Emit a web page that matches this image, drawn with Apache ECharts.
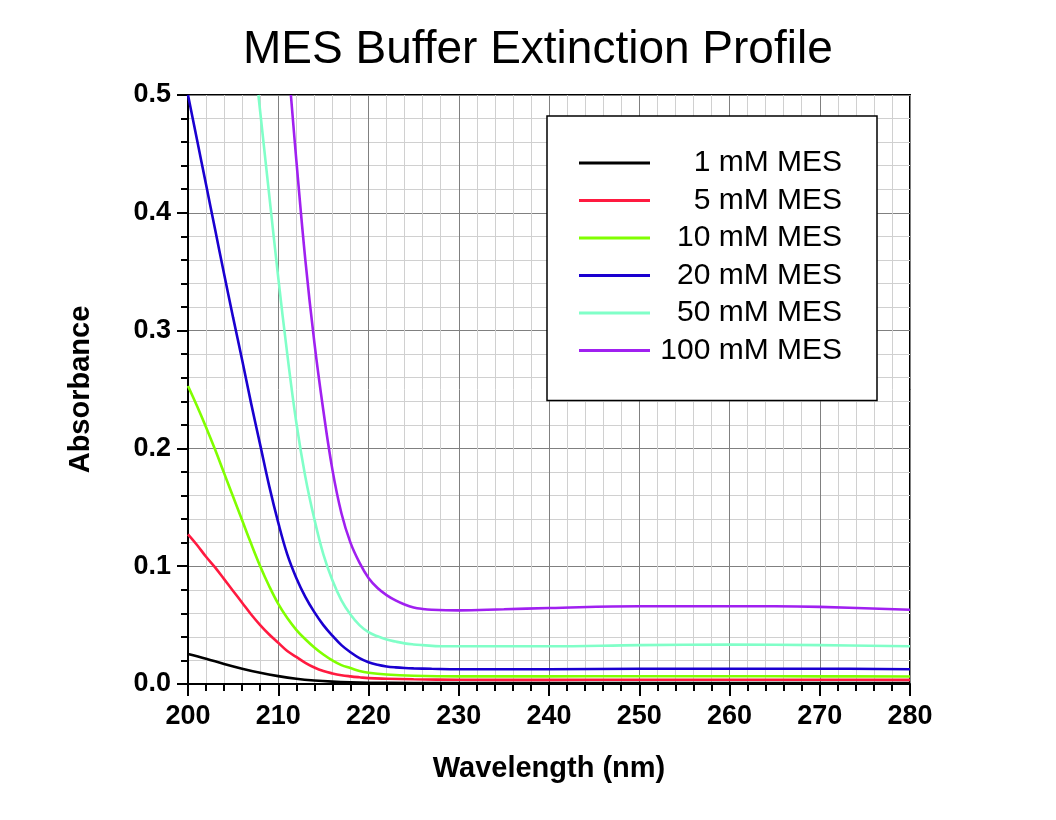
<!DOCTYPE html>
<html>
<head>
<meta charset="utf-8">
<script src="https://cdn.jsdelivr.net/npm/echarts@6/dist/echarts.min.js"></script>
<style>
  html, body { margin: 0; padding: 0; background: #fff; }
  #chart { width: 1056px; height: 820px; }
</style>
</head>
<body>
<div id="chart"></div>
<script>
// 各浓度的吸光度数据 (波长 nm / 吸光度)
var wl1 = [200, 202, 204, 206, 208, 210, 212, 214, 216, 218, 220, 225, 230, 240, 250, 260, 270, 280];
var abs1 = [0.0255, 0.0215, 0.017, 0.013, 0.0095, 0.0067, 0.0045, 0.003, 0.002, 0.0014, 0.0011, 0.0009, 0.0008, 0.0008, 0.0008, 0.0008, 0.0008, 0.0008];

var wl5 = [200, 201, 202, 203, 204, 205, 206, 207, 208, 209, 210, 211, 212, 213, 214, 215, 216, 217, 218, 219, 220, 222, 225, 230, 240, 250, 260, 270, 280];
var abs5 = [0.127, 0.118, 0.108, 0.099, 0.089, 0.079, 0.069, 0.059, 0.05, 0.042, 0.035, 0.028, 0.023, 0.018, 0.014, 0.011, 0.009, 0.0075, 0.0065, 0.0057, 0.005, 0.0045, 0.004, 0.0036, 0.0035, 0.0036, 0.0036, 0.0036, 0.0035];

var wl10 = [200, 201, 202, 203, 204, 205, 206, 207, 208, 209, 210, 211, 212, 213, 214, 215, 216, 217, 218, 219, 220, 222, 225, 230, 240, 250, 260, 270, 280];
var abs10 = [0.253, 0.236, 0.218, 0.199, 0.179, 0.159, 0.139, 0.119, 0.1, 0.083, 0.068, 0.056, 0.046, 0.038, 0.031, 0.025, 0.02, 0.016, 0.0135, 0.011, 0.0095, 0.008, 0.007, 0.0065, 0.0065, 0.0066, 0.0066, 0.0065, 0.0064];

var wl20 = [200, 201, 202, 203, 204, 205, 206, 207, 208, 209, 210, 211, 212, 213, 214, 215, 216, 217, 218, 219, 220, 221, 222, 223, 224, 225, 227, 230, 240, 250, 260, 270, 280];
var abs20 = [0.5, 0.462, 0.424, 0.386, 0.348, 0.311, 0.275, 0.238, 0.203, 0.168, 0.137, 0.11, 0.09, 0.074, 0.061, 0.05, 0.041, 0.033, 0.027, 0.022, 0.0185, 0.0163, 0.0149, 0.0141, 0.0136, 0.0133, 0.0129, 0.0125, 0.0125, 0.013, 0.013, 0.013, 0.0125];

var wl50 = [207.8, 209, 210, 211, 212, 213, 214, 215, 216, 217, 218, 219, 220, 221, 222, 223, 224, 225, 226, 228, 235, 240, 250, 260, 270, 280];
var abs50 = [0.5, 0.415, 0.345, 0.28, 0.222, 0.176, 0.14, 0.11, 0.088, 0.071, 0.059, 0.05, 0.044, 0.0405, 0.0378, 0.036, 0.0345, 0.0336, 0.033, 0.032, 0.032, 0.032, 0.033, 0.0335, 0.033, 0.032];

var wl100 = [211.4, 212, 213, 214, 215, 216, 217, 218, 219, 220, 221, 222, 223, 224, 225, 226, 227, 230, 235, 240, 250, 260, 265, 270, 280];
var abs100 = [0.5, 0.445, 0.36, 0.29, 0.232, 0.182, 0.145, 0.12, 0.103, 0.09, 0.0815, 0.0755, 0.071, 0.0675, 0.065, 0.0637, 0.063, 0.0625, 0.0635, 0.0645, 0.066, 0.066, 0.066, 0.0655, 0.063];

var seriesNames = ['1 mM MES', '5 mM MES', '10 mM MES', '20 mM MES', '50 mM MES', '100 mM MES'];
var seriesColors = ['#000000', '#ff1a40', '#80ff00', '#1a00d0', '#80ffc8', '#a020f0'];
var xTicks = [200, 210, 220, 230, 240, 250, 260, 270, 280];
var yTicks = [0.0, 0.1, 0.2, 0.3, 0.4, 0.5];

var allWl = [wl1, wl5, wl10, wl20, wl50, wl100];
var allAbs = [abs1, abs5, abs10, abs20, abs50, abs100];

var FONT = 'Liberation Sans';

var myLineChart = function () {
    var chart = echarts.init(document.getElementById('chart'));

    var series = [];
    seriesNames.forEach(function (name, i) {
        var pts = [];
        allWl[i].forEach(function (w, j) {
            pts.push([w, allAbs[i][j]]);
        });
        series.push({
            name: name,
            type: 'line',
            data: pts,
            smooth: 0.4,
            symbol: 'none',
            clip: true,
            lineStyle: { color: seriesColors[i], width: 2.6 },
            itemStyle: { color: seriesColors[i] }
        });
    });

    var option = {
        animation: false,
        backgroundColor: '#ffffff',
        title: {
            text: 'MES Buffer Extinction Profile',
            left: 238,
            top: 22,
            textStyle: { fontFamily: FONT, fontSize: 46, fontWeight: 'normal', color: '#000' }
        },
        legend: {
            orient: 'vertical',
            left: 547,
            top: 116,
            padding: [32, 35, 35, 32],
            itemGap: 7.5,
            itemWidth: 71,
            itemHeight: 3,
            icon: 'rect',
            backgroundColor: '#ffffff',
            borderColor: '#000000',
            borderWidth: 1.5,
            data: seriesNames,
            formatter: '{t|{name}}',
            textStyle: {
                rich: {
                    t: { fontFamily: FONT, fontSize: 30, color: '#000', width: 187, align: 'right', lineHeight: 30 }
                }
            }
        },
        grid: {
            left: 188,
            right: 146,
            top: 95,
            bottom: 136,
            show: true,
            borderColor: '#000',
            borderWidth: 2
        },
        xAxis: {
            type: 'value',
            min: 200,
            max: 280,
            interval: 10,
            name: 'Wavelength (nm)',
            nameLocation: 'middle',
            nameGap: 70,
            nameTextStyle: { fontFamily: FONT, fontSize: 29, fontWeight: 'bold', color: '#000' },
            axisLine: { show: true, onZero: false, lineStyle: { color: '#000', width: 2 } },
            axisTick: { show: true, length: 12, lineStyle: { color: '#000', width: 2 } },
            minorTick: { show: true, splitNumber: 5, length: 7, lineStyle: { color: '#000', width: 2 } },
            axisLabel: {
                margin: 19,
                fontFamily: FONT, fontSize: 27, fontWeight: 'bold', color: '#000',
                formatter: function (v) { return xTicks.indexOf(v) >= 0 ? String(v) : ''; }
            },
            splitLine: { show: true, lineStyle: { color: '#808080', width: 1 } },
            minorSplitLine: { show: true, lineStyle: { color: '#d0d0d0', width: 1 } }
        },
        yAxis: {
            type: 'value',
            min: 0,
            max: 0.5,
            interval: 0.1,
            name: 'Absorbance',
            nameLocation: 'middle',
            nameGap: 93,
            nameRotate: 90,
            nameTextStyle: { fontFamily: FONT, fontSize: 29, fontWeight: 'bold', color: '#000' },
            axisLine: { show: true, onZero: false, lineStyle: { color: '#000', width: 2 } },
            axisTick: { show: true, length: 11, lineStyle: { color: '#000', width: 2 } },
            minorTick: { show: true, splitNumber: 5, length: 7, lineStyle: { color: '#000', width: 2 } },
            axisLabel: {
                margin: 17,
                fontFamily: FONT, fontSize: 27, fontWeight: 'bold', color: '#000',
                formatter: function (v) { return v.toFixed(1); }
            },
            splitLine: { show: true, lineStyle: { color: '#808080', width: 1 } },
            minorSplitLine: { show: true, lineStyle: { color: '#d0d0d0', width: 1 } }
        },
        series: series
    };
    chart.setOption(option);
};

myLineChart();
</script>
</body>
</html>
